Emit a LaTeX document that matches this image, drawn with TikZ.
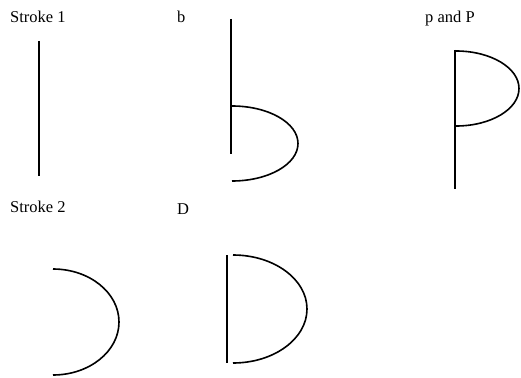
\documentclass[tikz,border=0pt]{standalone}
\usepackage{fontspec}
\setmainfont{Liberation Serif}
\usetikzlibrary{positioning}

\begin{document}
\begin{tikzpicture}[x=1pt, y=-1pt,
    every node/.style={font=\fontsize{16.5}{20}\selectfont, inner sep=0pt, anchor=base west},
    pen/.style={line width=1.6pt}]
  \useasboundingbox (0,0) rectangle (521,377);
  % labels
  \node (strokeone) at (10,23) {Stroke 1};
  \node (lowb) at (177,23) {b};
  \node (pP) at (425,23) {p and P};
  \node (stroketwo) at (10,212) {Stroke 2};
  \node (capD) at (177,214) {D};
  % stroke 1
  \draw[pen] (39,41) -- (39,176);
  % b
  \draw[pen] (231,19) -- (231,154);
  \draw[pen] (232,106) arc[start angle=90, end angle=-90, x radius=66pt, y radius=37.5pt];
  % p and P
  \draw[pen] (455,50) -- (455,189);
  \draw[pen] (456,51) arc[start angle=90, end angle=-90, x radius=63pt, y radius=37.5pt];
  % stroke 2
  \draw[pen] (53,269) arc[start angle=90, end angle=-90, x radius=66pt, y radius=53pt];
  % D
  \draw[pen] (227,255) -- (227,363);
  \draw[pen] (233,255) arc[start angle=90, end angle=-90, x radius=74pt, y radius=54pt];
\end{tikzpicture}
\end{document}
